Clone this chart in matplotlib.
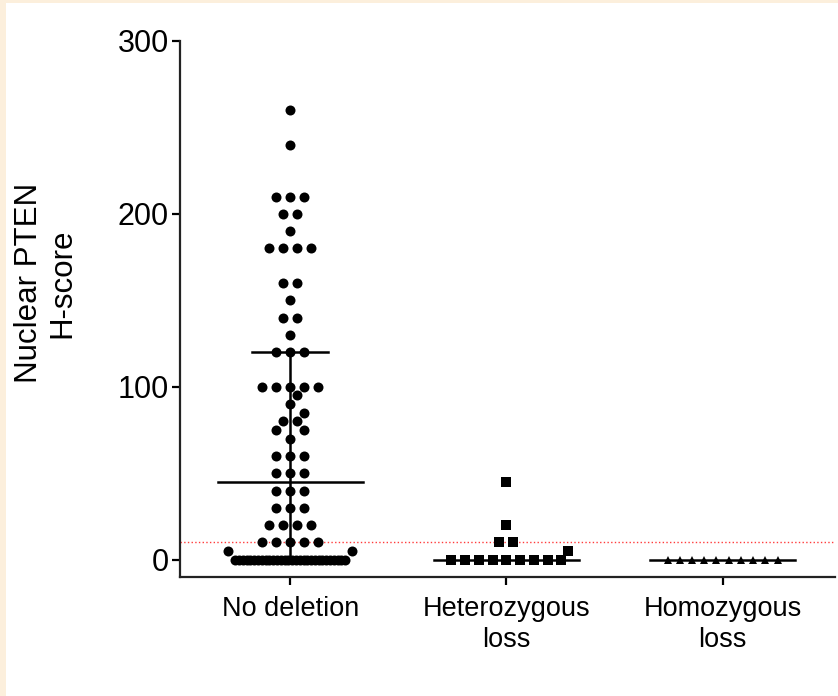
import numpy as np
import matplotlib.pyplot as plt
from matplotlib.patches import Rectangle

plt.rcParams['font.family'] = ['Liberation Sans', 'DejaVu Sans']

# group labels and values
groups = ['No deletion', 'Heterozygous\nloss', 'Homozygous\nloss']

no_deletion = ([260, 240] + [210] * 3 + [200] * 2 + [190] + [180] * 4 + [160] * 2 + [150]
               + [140] * 2 + [130] + [120] * 3 + [100] * 5 + [95, 90, 85] + [80] * 2
               + [75] * 2 + [70] + [60] * 3 + [50] * 3 + [40] * 3 + [30] * 3 + [20] * 4
               + [10] * 5 + [5] * 2 + [0] * 30)
het_loss = [45, 20, 10, 10, 5] + [0] * 9
homo_loss = [0] * 10

medians = [45, 0, 0]
lower_q = [0, None, None]
upper_q = [120, None, None]
cutoff = 10

markers = ['o', 's', '^']
msizes = [7.2, 7.0, 5.5]

fig = plt.figure(figsize=(8.38, 6.96), dpi=100)
fig.patch.set_facecolor('#fcefdc')
fig.patches.append(Rectangle((6 / 838, 0), 1, 1 - 3 / 696, transform=fig.transFigure,
                             facecolor='white', edgecolor='none', zorder=-10))

ax = fig.add_axes([180 / 838, 119 / 696, 655 / 838, 536 / 696])
ax.set_facecolor('none')
ax.set_xlim(-0.51, 2.52)
ax.set_ylim(-10, 300)


def swarm(xc, vals, placed, maxw=110, step0=14, d=11):
    # place equal values in symmetric rows, push colliding points sideways (pixel space)
    vals = np.array(vals)
    uniq, counts = np.unique(vals, return_counts=True)
    order = sorted(range(len(uniq)), key=lambda i: (-counts[i], -uniq[i]))
    xs, ys = [], []
    for i in order:
        v, n = uniq[i], counts[i]
        cx, cy = ax.transData.transform((xc, v))
        step = step0 if n == 1 else min(step0, maxw / (n - 1))
        mine = []
        for k in range(n):
            s = (k - (n - 1) / 2) * step

            def free(px):
                return all(np.hypot(px - qx, cy - qy) >= d for qx, qy in placed)

            pos = s
            if not free(cx + s):
                for dd in np.arange(0.5, 200, 0.5):
                    if s >= 0 and free(cx + s + dd):
                        pos = s + dd
                        break
                    if s <= 0 and free(cx + s - dd):
                        pos = s - dd
                        break
            mine.append((cx + pos, cy))
        placed.extend(mine)
        for px, py in mine:
            dx, dy = ax.transData.inverted().transform((px, py))
            xs.append(dx)
            ys.append(dy)
    return xs, ys


ax.axhline(cutoff, color='#ff3b3b', ls=':', lw=1.0, zorder=1)

for i, vals in enumerate([no_deletion, het_loss, homo_loss]):
    placed = []
    xs, ys = swarm(i, vals, placed)
    ax.plot(xs, ys, ls='none', marker=markers[i], ms=msizes[i], color='black',
            markeredgewidth=0, zorder=3)
    ax.plot([i - 0.335, i + 0.335], [medians[i], medians[i]], color='black', lw=1.8, zorder=4)
    if upper_q[i] is not None:
        ax.plot([i, i], [lower_q[i], upper_q[i]], color='black', lw=1.8, zorder=4)
        for q in (lower_q[i], upper_q[i]):
            ax.plot([i - 0.175, i + 0.175], [q, q], color='black', lw=1.8, zorder=4)

for side in ['top', 'right']:
    ax.spines[side].set_visible(False)
for side in ['left', 'bottom']:
    ax.spines[side].set_linewidth(1.6)
    ax.spines[side].set_color('#222222')

ax.set_yticks([0, 100, 200, 300])
ax.set_xticks(range(3))
ax.set_xticklabels(groups, fontsize=19.5, linespacing=1.25)
ax.tick_params(axis='y', labelsize=22, length=6, width=1.6, direction='out', pad=2)
ax.tick_params(axis='x', length=6, width=1.6, direction='out', pad=8)

fig.text(46 / 838, 1 - 283 / 696, 'Nuclear PTEN\nH-score', fontsize=22.5, rotation=90,
         ha='center', va='center', multialignment='center', linespacing=1.15)

plt.savefig('out.png', dpi=100)
